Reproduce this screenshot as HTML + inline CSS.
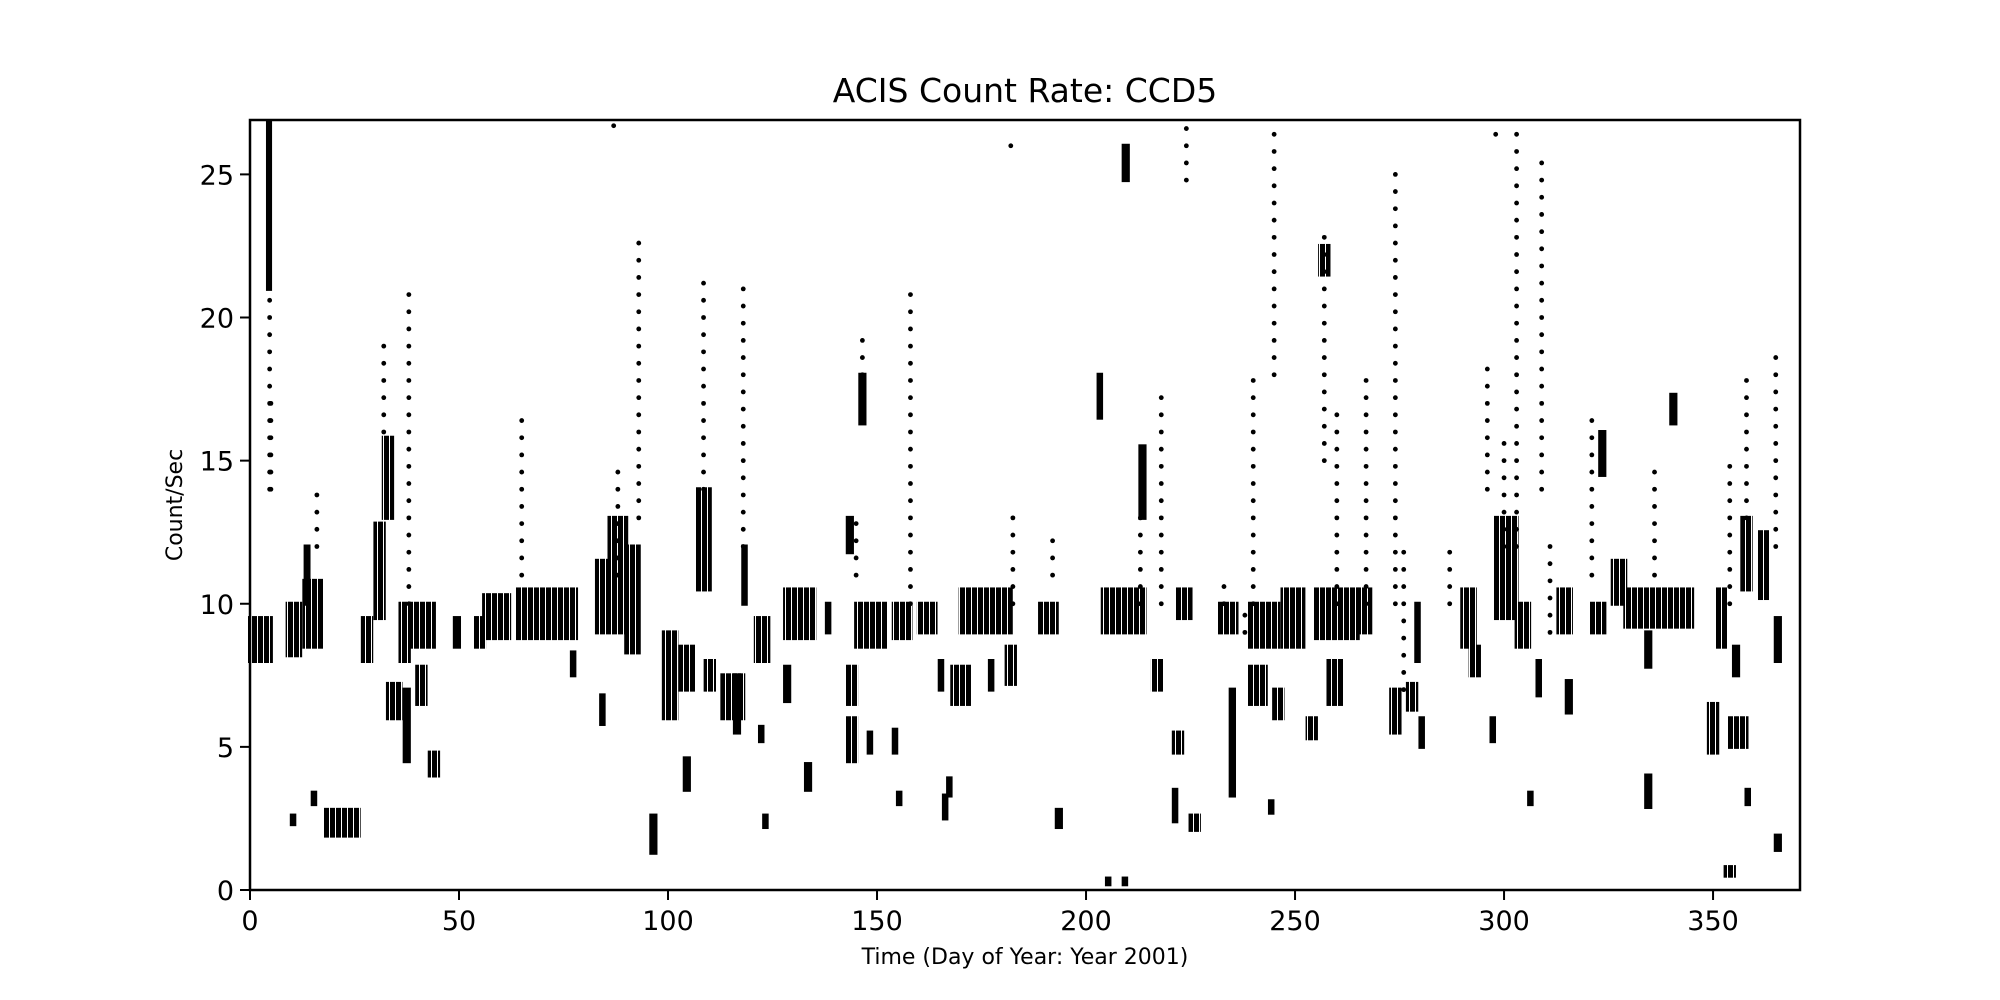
<!DOCTYPE html>
<html><head><meta charset="utf-8"><style>
html,body{margin:0;padding:0;background:#fff;}
svg{display:block;font-family:"DejaVu Sans","Liberation Sans",sans-serif;}
</style></head><body>
<svg id="chart" width="2000" height="1000" viewBox="0 0 2000 1000">
<defs>
<pattern id="stripes" patternUnits="userSpaceOnUse" width="6" height="10">
<rect x="0" y="0" width="5" height="10" fill="#000"/>
</pattern>
</defs>
<rect width="2000" height="1000" fill="#fff"/>
<text x="1025" y="102" font-size="33" text-anchor="middle">ACIS Count Rate: CCD5</text>
<g id="marks"></g>
<rect x="250" y="120" width="1550" height="770" fill="none" stroke="#000" stroke-width="2.5"/>
<g id="xticks"></g>
<g id="yticks"></g>
<text x="1025" y="964" font-size="22" text-anchor="middle">Time (Day of Year: Year 2001)</text>
<text transform="translate(182,505) rotate(-90)" font-size="22" text-anchor="middle">Count/Sec</text>
</svg>
<script>
// dense clusters: day start, day end, rate low, rate high
const clusterX0=[0,4.3,9,10,13,13.3,15,18,27,30,32,33,36,37,38,40,43,49,54,56,64,77,83,84,86,90,96,99,104,103,107,109,113,116,118,121,122,123,128,128,133,138,143,143,143,146,145,148,154,155,154,160,165,166,167,168,170,177,181,189,193,203,204,205,209,209,213,216,221,221,222,225,232,234.6,239,239,244,245,247,253,256,255,258,265,273,277,279,280,290,292,297,298,303,306,308,313,315,321,323,326,334,334,329,340,349,351,353,354,355,357,358,361,365,365];
const clusterX1=[5,4.8,12,10.6,17,14,15.6,26,29,32,34,36,38,38,44,42,45,50,56,62,78,77.6,91,84.6,90,93,97,102,105,106,110,111,118,117,118.6,124,122.6,123.6,135,129,134,138.6,144,145,145,147,152,148.6,158,155.6,154.6,164,165.6,166.6,167.6,172,182,177.6,183,193,194,203.6,214,205.6,209.6,210,214,218,221.6,223,225,227,236,235.4,243,246,244.6,247,252,255,258,265,261,268,275,279,279.6,280.6,293,294,297.6,303,306,306.6,308.6,316,316,324,324,329,335,335,345,341,351,353,355,358,356,359,358.6,363,366,366];
const clusterY0=[8,21,8.2,2.3,8.5,10,3,1.9,8,9.5,13,6,8,4.5,8.5,6.5,4,8.5,8.5,8.8,8.8,7.5,9,5.8,11,8.3,1.3,6,3.5,7,10.5,7,6,5.5,10,8,5.2,2.2,8.8,6.6,3.5,9,11.8,4.5,6.5,16.3,8.5,4.8,8.8,3,4.8,9,7,2.5,3.3,6.5,9,7,7.2,9,2.2,16.5,9,0.2,0.2,24.8,13,7,2.4,4.8,9.5,2.1,9,3.3,6.5,8.5,2.7,6,8.5,5.3,21.5,8.8,6.5,9,5.5,6.3,8,5,8.5,7.5,5.2,9.5,8.5,3,6.8,9,6.2,9,14.5,10,2.9,7.8,9.2,16.3,4.8,8.5,0.5,5,7.5,10.5,3,10.2,1.4,8];
const clusterY1=[9.5,26.8,10,2.6,10.8,12,3.4,2.8,9.5,12.8,15.8,7.2,10,7,10,7.8,4.8,9.5,9.5,10.3,10.5,8.3,11.5,6.8,13,12,2.6,9,4.6,8.5,14,8,7.5,7.5,12,9.5,5.7,2.6,10.5,7.8,4.4,10,13,6,7.8,18,10,5.5,10,3.4,5.6,10,8,3.3,3.9,7.8,10.5,8,8.5,10,2.8,18,10.5,0.4,0.4,26,15.5,8,3.5,5.5,10.5,2.6,10,7,7.8,10,3.1,7,10.5,6,22.5,10.5,8,10.5,7,7.2,10,6,10.5,8.5,6,13,10,3.4,8,10.5,7.3,10,16,11.5,4,9,10.5,17.3,6.5,10.5,0.8,6,8.5,13,3.5,12.5,1.9,9.5];
// sparse outlier streaks: day, rate low, rate high
const streakX=[4.7,32,38,93,108.5,118,146.5,158,218,224,240,245,257,260,267,274,296,303,309,321,358,365,88,182,87,298,5,16,65,145,182.5,192,213,233,238,276,287,311,336,354,300];
const streakY0=[14,16,10,13,14,12,18,10,10,24.8,10,18,15,10,10,10,14,12,14,11,13,12,11,26,26.7,26.4,14,12,11,11,10,11,10,10,9,7,10,9,11,10,12];
const streakY1=[21,19,21,23,21.5,21,19.7,21,17.5,26.8,18,26.5,23,17,18,25.5,18.5,26.6,25.5,16.5,18,18.8,15,26.2,26.8,26.6,17.5,14,16.5,13,13,12.7,13,11,10,12,12,12,15,15,16];
const xTicks=[0,50,100,150,200,250,300,350];
const yTicks=[0,5,10,15,20,25];
const XMIN=0,XMAX=370.8,YMIN=0,YMAX=26.9;
const L=250,R=1800,T=120,B=890;
const sx=v=>L+(v-XMIN)/(XMAX-XMIN)*(R-L);
const sy=v=>B-(v-YMIN)/(YMAX-YMIN)*(B-T);
const NS='http://www.w3.org/2000/svg';
const marks=document.getElementById('marks');
for(let i=0;i<clusterX0.length;i++){
  const r=document.createElementNS(NS,'rect');
  const x=sx(clusterX0[i])-2, w=Math.max(5,sx(clusterX1[i])-sx(clusterX0[i])+4);
  const y=sy(clusterY1[i])-2, h=sy(clusterY0[i])-sy(clusterY1[i])+4;
  r.setAttribute('x',x);r.setAttribute('y',y);r.setAttribute('width',w);r.setAttribute('height',h);
  r.setAttribute('fill',w>12?'url(#stripes)':'#000');
  
  
  marks.appendChild(r);
}
for(let i=0;i<streakX.length;i++){
  const g=document.createElementNS(NS,'g');
  
  
  for(let v=streakY0[i];v<=streakY1[i]+1e-6;v+=0.6){
    const c=document.createElementNS(NS,'circle');
    c.setAttribute('cx',sx(streakX[i]));c.setAttribute('cy',sy(v));c.setAttribute('r',2.4);c.setAttribute('fill','#000');
    g.appendChild(c);
  }
  marks.appendChild(g);
}
const xg=document.getElementById('xticks');
xTicks.forEach(t=>{
  const l=document.createElementNS(NS,'line');
  l.setAttribute('x1',sx(t));l.setAttribute('x2',sx(t));l.setAttribute('y1',B);l.setAttribute('y2',B+10);
  l.setAttribute('stroke','#000');l.setAttribute('stroke-width','2');
  
  
  xg.appendChild(l);
  const tx=document.createElementNS(NS,'text');
  tx.setAttribute('x',sx(t));tx.setAttribute('y',B+40);tx.setAttribute('font-size','27');tx.setAttribute('text-anchor','middle');
  tx.textContent=t;
  
  
  xg.appendChild(tx);
});
const yg=document.getElementById('yticks');
yTicks.forEach(t=>{
  const l=document.createElementNS(NS,'line');
  l.setAttribute('x1',L-10);l.setAttribute('x2',L);l.setAttribute('y1',sy(t));l.setAttribute('y2',sy(t));
  l.setAttribute('stroke','#000');l.setAttribute('stroke-width','2');
  
  
  yg.appendChild(l);
  const tx=document.createElementNS(NS,'text');
  tx.setAttribute('x',L-16);tx.setAttribute('y',sy(t)+10);tx.setAttribute('font-size','27');tx.setAttribute('text-anchor','end');
  tx.textContent=t;
  
  
  yg.appendChild(tx);
});
</script>
</body></html>
